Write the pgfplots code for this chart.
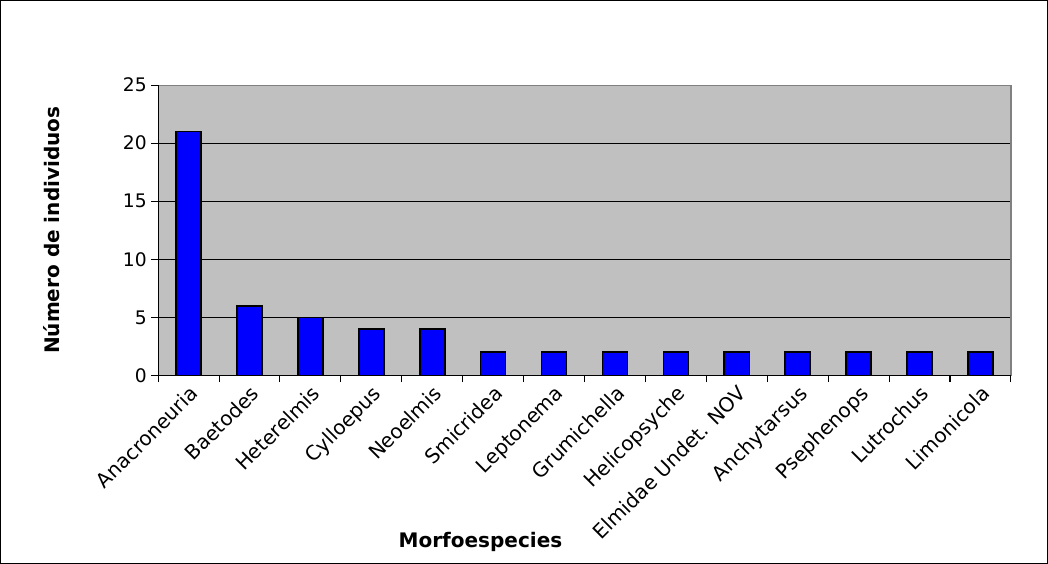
\documentclass[border=0pt]{standalone}
\usepackage{pgfplots}
\pgfplotsset{compat=1.18}
\usepackage{fontspec}
\setmainfont{DejaVu Sans}

\definecolor{plotgray}{HTML}{C0C0C0}
\definecolor{bordergray}{HTML}{808080}

\begin{document}
\begin{tikzpicture}
\begin{axis}[
    scale only axis,
    width=639pt, height=217.5pt,
    xmin=-0.5, xmax=13.5,
    ymin=0, ymax=25,
    ytick={0,5,10,15,20,25},
    xtick={0,...,13},
    xticklabels={Anacroneuria, Baetodes, Heterelmis, Cylloepus, Neoelmis, Smicridea, Leptonema, Grumichella, Helicopsyche, Elmidae Undet. NOV, Anchytarsus, Psephenops, Lutrochus, Limonicola},
    x tick label style={rotate=45, anchor=north east, inner sep=1pt, font=\fontsize{15}{17}\selectfont},
    y tick label style={font=\fontsize{14}{16}\selectfont},
    major x tick style={draw=none},
    minor xtick={-0.5,0.5,...,13.5},
    minor x tick style={black},
    minor tick length=5pt,
    major tick length=5pt,
    tick align=outside,
    xtick pos=bottom, ytick pos=left,
    ymajorgrids,
    grid style={black, line width=0.8pt},
    axis background/.style={fill=plotgray},
    axis line style={bordergray},
    tick style={black, line width=0.8pt},
    /pgf/number format/assume math mode=true,
    xlabel={\textbf{Morfoespecies}},
    ylabel={\textbf{Número de individuos}},
    xlabel style={font=\fontsize{15}{17}\selectfont, at={(rel axis cs:0.378,-0.625)}, anchor=south},
    ylabel style={font=\fontsize{15}{17}\selectfont, at={(rel axis cs:-0.11,0.5)}, anchor=south},
    clip=false,
]
\addplot[ybar, bar width=18.75pt, fill=blue, draw=black, line width=1.2pt] coordinates {
    (0,21) (1,6) (2,5) (3,4) (4,4) (5,2) (6,2) (7,2) (8,2) (9,2) (10,2) (11,2) (12,2) (13,2)
};
\draw[bordergray, line width=0.8pt] (rel axis cs:0,1) -- (rel axis cs:1,1) -- (rel axis cs:1,0);
\draw[black, line width=0.8pt] (rel axis cs:0,0) -- (rel axis cs:0,1);
\draw[black, line width=0.8pt] (rel axis cs:0,0) -- (rel axis cs:1,0);
\draw[black, line width=0.8pt] (rel axis cs:-0.1848,-0.6466) rectangle (rel axis cs:1.0429,1.2914);
\end{axis}
\end{tikzpicture}
\end{document}
